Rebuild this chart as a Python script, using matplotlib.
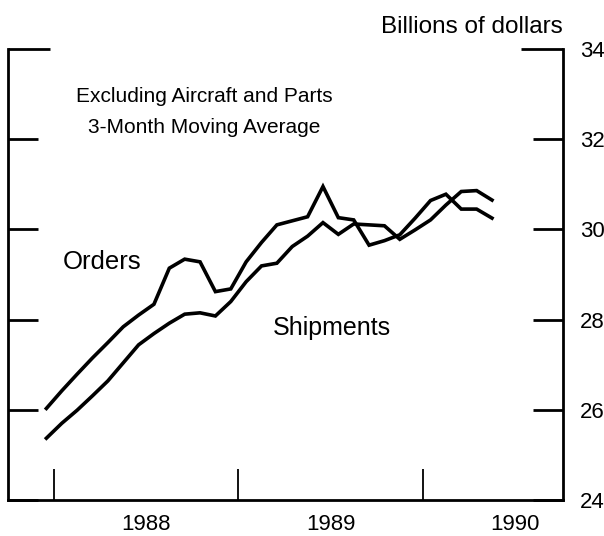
"""Durable goods orders and shipments, excl. aircraft and parts
"""
import matplotlib
matplotlib.use("Agg")
import matplotlib.pyplot as plt

plt.rcParams['font.family'] = ['Liberation Sans', 'DejaVu Sans']

# monthly, Dec 1987 .. May 1990 (3-month moving average, billions of dollars)
months = ["1987-12",
          "1988-01", "1988-02", "1988-03", "1988-04", "1988-05", "1988-06",
          "1988-07", "1988-08", "1988-09", "1988-10", "1988-11", "1988-12",
          "1989-01", "1989-02", "1989-03", "1989-04", "1989-05", "1989-06",
          "1989-07", "1989-08", "1989-09", "1989-10", "1989-11", "1989-12",
          "1990-01", "1990-02", "1990-03", "1990-04", "1990-05"]
orders = [26.03, 26.42, 26.79, 27.15, 27.49, 27.84, 28.10, 28.34, 29.14, 29.34,
          29.28, 28.62, 28.68, 29.28, 29.71, 30.10, 30.19, 30.28, 30.95, 30.26,
          30.21, 29.65, 29.75, 29.88, 30.25, 30.64, 30.78, 30.45, 30.45, 30.25]
shipments = [25.37, 25.70, 25.99, 26.31, 26.64, 27.04, 27.44, 27.69, 27.92, 28.12,
             28.15, 28.08, 28.40, 28.84, 29.19, 29.25, 29.62, 29.85, 30.15, 29.89,
             30.12, 30.10, 30.08, 29.78, 29.99, 30.21, 30.54, 30.84, 30.86, 30.65]
year_ticks = [1988, 1989, 1990]
year_labels = ["1988", "1989", "1990"]
y_ticks = [24, 26, 28, 30, 32, 34]

# place each month at its middle, in decimal years
x = [int(m[:4]) + (int(m[5:]) - 0.5) / 12 for m in months]

fig = plt.figure(figsize=(6.04, 5.36), dpi=100)
ax = fig.add_axes([0.0132, 0.0672, 0.9189, 0.8414])

ax.plot(x, orders, color="black", linewidth=2.6, solid_joinstyle="miter")
ax.plot(x, shipments, color="black", linewidth=2.6, solid_joinstyle="miter")

ax.set_xlim(1987.75, 1990.76)
ax.set_ylim(24, 34)

ax.spines["top"].set_visible(False)
for s in ["left", "right", "bottom"]:
    ax.spines[s].set_linewidth(2.0)

ax.set_yticks(y_ticks)
ax.yaxis.set_ticks_position("both")
ax.tick_params(axis="y", direction="in", length=21.5, width=2.0,
               labelleft=False, labelright=True, labelsize=16, pad=12)
# the top tick is longer, it closes the frame like a bracket
top_tick = ax.yaxis.get_major_ticks()[-1]
top_tick.tick1line.set_markersize(30)
top_tick.tick2line.set_markersize(30)

ax.set_xticks(year_ticks)
ax.set_xticklabels([])
ax.set_xticks([y + 0.5 for y in year_ticks], minor=True)
ax.set_xticklabels(year_labels, minor=True)
ax.tick_params(axis="x", which="major", direction="in", length=22, width=1.3)
ax.tick_params(axis="x", which="minor", length=0, labelsize=16, pad=10)

ax.text(0.353, 0.894, "Excluding Aircraft and Parts", transform=ax.transAxes,
        ha="center", va="center", fontsize=15)
ax.text(0.353, 0.825, "3-Month Moving Average", transform=ax.transAxes,
        ha="center", va="center", fontsize=15)
ax.text(0.170, 0.528, "Orders", transform=ax.transAxes,
        ha="center", va="center", fontsize=18.5)
ax.text(0.584, 0.381, "Shipments", transform=ax.transAxes,
        ha="center", va="center", fontsize=18)
fig.text(563 / 604, 1 - 33 / 536, "Billions of dollars",
         ha="right", va="baseline", fontsize=17.5)

plt.savefig("out.png", dpi=100)
